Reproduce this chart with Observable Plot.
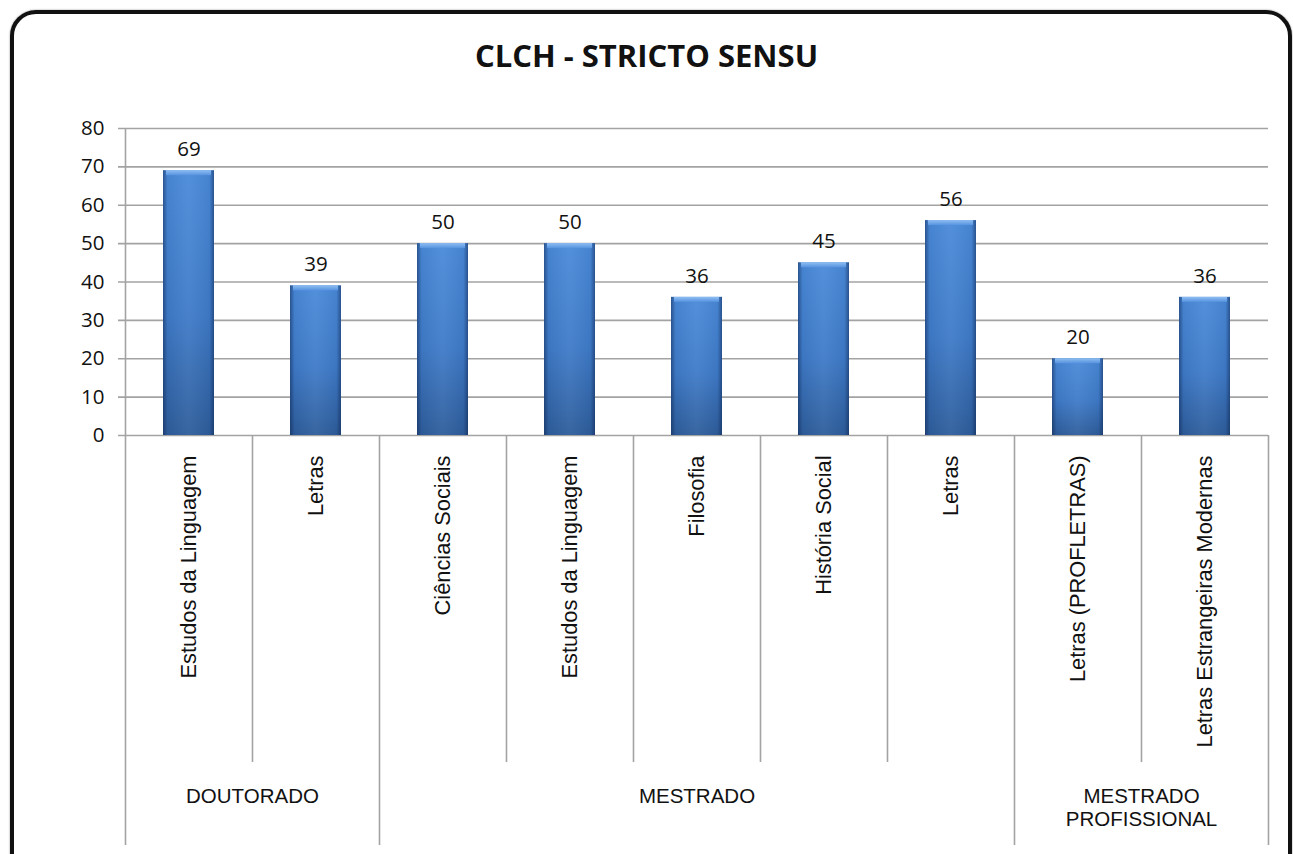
<!DOCTYPE html>
<html>
<head>
<meta charset="utf-8">
<script src="https://cdn.jsdelivr.net/npm/d3@7"></script>
<script src="https://cdn.jsdelivr.net/npm/@observablehq/plot@0.6"></script>
<style>
  html, body { margin: 0; padding: 0; background: #fff; }
  #wrap { position: relative; width: 1293px; height: 854px; overflow: hidden; }
  #frame { position: absolute; left: 10px; top: 10px; width: 1274px; height: 900px;
           border: 4px solid #111; border-radius: 26px; box-shadow: 0 0 2px #888; }
  #title { position: absolute; left: 0; top: 40px; width: 1293px; text-align: center;
           font: bold 31px "Open Sans", sans-serif; line-height: 31px; color: #111; }
  #chart { position: absolute; left: 0; top: 0; }
</style>
</head>
<body>
<div id="wrap">
  <div id="frame"></div>
  <div id="title">CLCH - STRICTO SENSU</div>
  <div id="chart"></div>
</div>
<script>
const categories = ["Estudos da Linguagem", "Letras", "Ciências Sociais", "Estudos da Linguagem", "Filosofia", "História Social", "Letras", "Letras (PROFLETRAS)", "Letras Estrangeiras Modernas"];
const values = [69, 39, 50, 50, 36, 45, 56, 20, 36];
const groups = ["DOUTORADO", "MESTRADO", "MESTRADO\nPROFISSIONAL"];
const groupSizes = [2, 5, 2];
const yTicks = [0, 10, 20, 30, 40, 50, 60, 70, 80];

const bars = categories.map((name, i) => ({i, name, value: values[i]}));
let start = 0;
const groupData = groups.map((name, k) => {
  const g = {name, start, end: start + groupSizes[k], mid: start + groupSizes[k] / 2};
  start += groupSizes[k];
  return g;
});
const groupBounds = groupData.map(g => g.end);
const innerBounds = d3.range(1, categories.length).filter(b => !groupBounds.includes(b));

const defs = () => {
  const ns = "http://www.w3.org/2000/svg";
  const el = document.createElementNS(ns, "defs");
  el.innerHTML = `
    <linearGradient id="barV" x1="0" y1="0" x2="0" y2="1">
      <stop offset="0" stop-color="#4a8ad9"/>
      <stop offset="0.55" stop-color="#3f7bc8"/>
      <stop offset="1" stop-color="#2e5d9b"/>
    </linearGradient>
    <linearGradient id="barH" x1="0" y1="0" x2="1" y2="0">
      <stop offset="0" stop-color="#0a1e46" stop-opacity="0.5"/>
      <stop offset="0.09" stop-color="#0a1e46" stop-opacity="0.06"/>
      <stop offset="0.5" stop-color="#ffffff" stop-opacity="0.05"/>
      <stop offset="0.91" stop-color="#0a1e46" stop-opacity="0.06"/>
      <stop offset="1" stop-color="#0a1e46" stop-opacity="0.5"/>
    </linearGradient>
    <linearGradient id="bevel" x1="0" y1="0" x2="0" y2="1">
      <stop offset="0" stop-color="#8fbef2"/>
      <stop offset="1" stop-color="#5693df"/>
    </linearGradient>`;
  return el;
};

const chart = Plot.plot({
  width: 1293,
  height: 854,
  marginLeft: 125,
  marginRight: 25,
  marginTop: 128,
  marginBottom: 419,
  x: {domain: [0, categories.length], axis: null},
  y: {domain: [0, 80], axis: null},
  style: {background: "transparent", color: "#111"},
  marks: [
    defs,
    Plot.ruleY(yTicks, {y: d => d, stroke: "#a3a3a3", strokeWidth: 1.6, insetLeft: -7}),
    Plot.ruleX([0], {x: d => d, stroke: "#a3a3a3", strokeWidth: 1.6, insetBottom: -410}),
    Plot.ruleX(groupBounds, {x: d => d, stroke: "#a3a3a3", strokeWidth: 1.6, insetTop: 307, insetBottom: -410}),
    Plot.ruleX(innerBounds, {x: d => d, stroke: "#a3a3a3", strokeWidth: 1.6, insetTop: 307, insetBottom: -327}),
    Plot.text(yTicks, {y: d => d, text: d => String(d), frameAnchor: "left", dx: -21, textAnchor: "end",
      lineAnchor: "middle", fontSize: 20.5, fontFamily: "Open Sans", fill: "#111"}),
    Plot.rect(bars, {x1: "i", x2: d => d.i + 1, y1: d => 0, y2: "value", insetLeft: 38, insetRight: 38, fill: "url(#barV)"}),
    Plot.rect(bars, {x1: "i", x2: d => d.i + 1, y1: d => 0, y2: "value", insetLeft: 38, insetRight: 38, fill: "url(#barH)"}),
    Plot.rect(bars, {x1: "i", x2: d => d.i + 1, y1: "value", y2: "value", insetLeft: 41, insetRight: 41, insetBottom: -5, fill: "url(#bevel)"}),
    Plot.text(bars, {x: d => d.i + 0.5, y: "value", text: d => String(d.value), dy: -21, lineAnchor: "middle",
      fontSize: 20.5, fontFamily: "Open Sans", fill: "#111"}),
    Plot.text(bars, {x: d => d.i + 0.5, text: "name", frameAnchor: "bottom", dy: 20, rotate: -90,
      textAnchor: "end", lineAnchor: "middle", fontSize: 21.8, fontFamily: "Liberation Sans", fill: "#111"}),
    Plot.text(groupData, {x: "mid", text: "name", frameAnchor: "bottom", dy: 351, lineAnchor: "top",
      lineHeight: 1.12, fontSize: 20.5, fontFamily: "Liberation Sans", fill: "#111"})
  ]
});
document.getElementById("chart").appendChild(chart);
</script>
</body>
</html>
